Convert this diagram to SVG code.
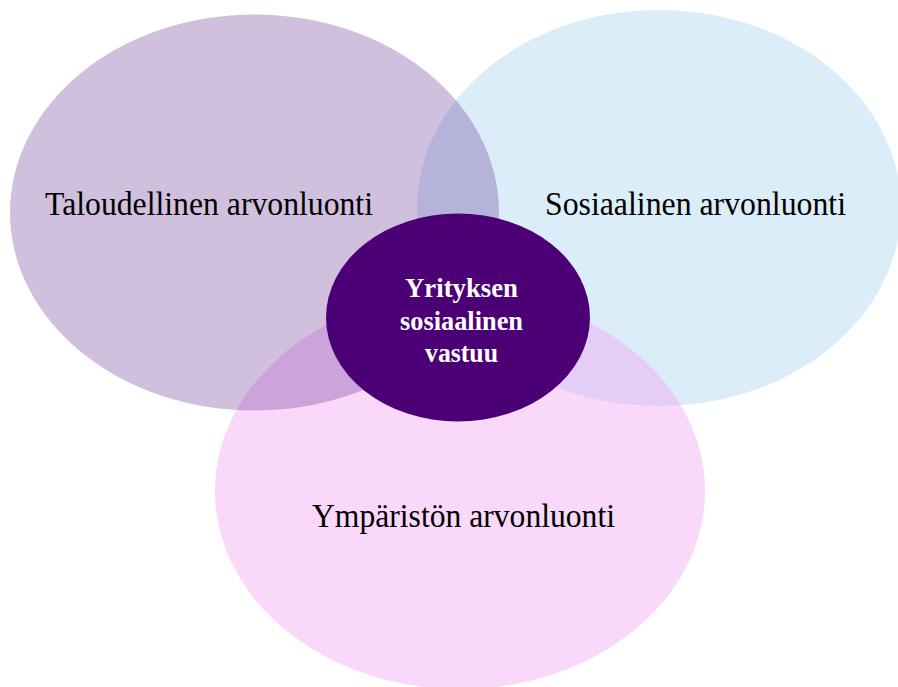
<svg xmlns="http://www.w3.org/2000/svg" width="898" height="687" viewBox="0 0 898 687">
<style>
.lbl{font-family:"Liberation Serif","Times New Roman",serif;font-size:34px;fill:#000;text-anchor:middle}
.ctr{font-family:"Liberation Serif","Times New Roman",serif;font-size:27px;font-weight:bold;fill:#fff;text-anchor:middle}
</style>
<rect width="898" height="687" fill="#fff"/>
<g id="sosiaalinen">
<ellipse cx="659" cy="208" rx="242" ry="198" fill="#DCEDFA"/>
</g>
<g id="ymparisto">
<ellipse cx="460" cy="491" rx="245" ry="198" fill="rgb(240,157,242)" fill-opacity="0.4"/>
</g>
<g id="taloudellinen">
<ellipse cx="254.5" cy="212.5" rx="244.5" ry="198" fill="rgb(87,30,137)" fill-opacity="0.28"/>
</g>
<g id="labels">
<text class="lbl" x="209" y="215" textLength="328" lengthAdjust="spacingAndGlyphs">Taloudellinen arvonluonti</text>
<text class="lbl" x="695.5" y="215" textLength="301" lengthAdjust="spacingAndGlyphs">Sosiaalinen arvonluonti</text>
<text class="lbl" x="463.5" y="527" textLength="303" lengthAdjust="spacingAndGlyphs">Ympäristön arvonluonti</text>
</g>
<g id="yritysvastuu">
<ellipse cx="458" cy="317.5" rx="132" ry="104" fill="#4B0076"/>
<text class="ctr" x="461.5" y="297" textLength="113" lengthAdjust="spacingAndGlyphs">Yrityksen</text>
<text class="ctr" x="461.5" y="330" textLength="123" lengthAdjust="spacingAndGlyphs">sosiaalinen</text>
<text class="ctr" x="461.5" y="362" textLength="73" lengthAdjust="spacingAndGlyphs">vastuu</text>
</g>
<g id="connectors"/>
</svg>
